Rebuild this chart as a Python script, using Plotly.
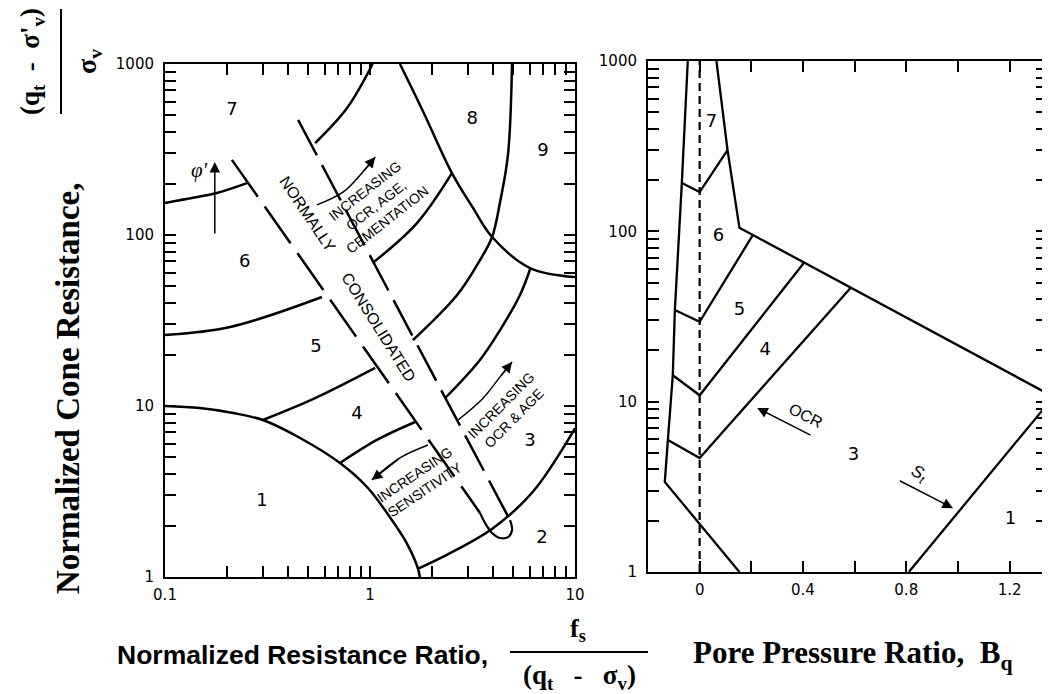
import math
import plotly.graph_objects as go

# ---------------- Left chart: normalized friction ratio vs normalized cone resistance
Z1_X = [0.1, 0.148, 0.215, 0.30, 0.456, 0.714, 0.967, 1.25, 1.51, 1.71, 1.75]
Z1_Y = [10.0, 9.73, 9.1, 8.28, 6.5, 4.64, 3.36, 2.24, 1.58, 1.13, 1.0]
Z23_X = [1.72, 2.46, 3.98, 6.23, 10.0]
Z23_Y = [1.12, 1.38, 1.93, 3.15, 7.4]
Z34L_X = [0.714, 1.08, 1.66]
Z34L_Y = [4.64, 6.33, 8.06]
Z34R_X = [2.32, 3.44, 4.31, 5.39, 6.05]
Z34R_Y = [11.1, 18.6, 27.8, 44.6, 63.5]
Z45L_X = [0.30, 0.53, 1.06]
Z45L_Y = [8.28, 11.0, 16.7]
Z45R_X = [1.62, 2.66, 3.44, 3.94, 4.31, 4.71, 4.93]
Z45R_Y = [24.3, 44.6, 71.4, 97.3, 156, 294, 1000]
Z56L_X = [0.1, 0.208, 0.583]
Z56L_Y = [26.0, 29.0, 43.4]
Z56R_X = [1.03, 1.69, 2.51]
Z56R_Y = [68.6, 117, 230]
Z67L_X = [0.1, 0.137, 0.179, 0.251]
Z67L_Y = [154, 165, 176, 201]
Z67R_X = [0.54, 0.773, 1.03]
Z67R_Y = [345, 553, 1000]
ZC_X = [1.40, 1.82, 2.51, 3.18, 3.94, 6.03, 10.0]
ZC_Y = [1000, 524, 230, 144, 97.3, 64.1, 56.8]

# normally consolidated band
NC_LEFT_X = [0.212, 3.44]
NC_LEFT_Y = [275, 2.37]
NC_U_X = [3.44, 3.64, 3.94, 4.31, 4.71, 4.93, 4.82]
NC_U_Y = [2.37, 2.07, 1.81, 1.69, 1.71, 1.88, 2.15]
NC_RIGHT_X = [0.446, 4.82]
NC_RIGHT_Y = [471, 2.15]

# arrows (left chart), last point is the arrow tip
PHI_X = [0.175, 0.175]
PHI_Y = [100, 267]
ARR_UP_X = [0.551, 0.738, 0.924, 1.06]
ARR_UP_Y = [150, 178, 234, 286]
ARR_OCR_X = [2.69, 3.56, 4.31, 4.93]
ARR_OCR_Y = [8.28, 11.1, 14.8, 18.1]
ARR_SEN_X = [1.92, 1.40, 1.02]
ARR_SEN_Y = [5.91, 4.97, 3.69]

LEFT_ZONES = ["1", "2", "3", "4", "5", "6", "7", "8", "9"]
LEFT_ZX = [0.297, 6.9, 6.03, 0.865, 0.545, 0.245, 0.212, 3.15, 6.98]
LEFT_ZY = [2.75, 1.69, 6.16, 8.86, 22.1, 68.6, 538, 471, 306]

LEFT_X_MAJOR = [0.1, 1, 10]
LEFT_X_LABELS = ["0.1", "1", "10"]
Y_MAJOR = [1, 10, 100, 1000]
Y_LABELS = ["1", "10", "100", "1000"]

# ---------------- Right chart: pore pressure ratio Bq vs normalized cone resistance
R_OUT_X = [-0.046, -0.069, -0.096, -0.104, -0.123, -0.135, 0.154]
R_OUT_Y = [1000, 192, 34.5, 14.3, 5.96, 3.38, 1.0]
R_TOP_X = [0.065, 0.108, 0.154, 1.345]
R_TOP_Y = [1000, 300, 105, 11.2]
R_76_X = [-0.069, 0.0, 0.108]
R_76_Y = [192, 170, 300]
R_65_X = [-0.096, 0.0, 0.204]
R_65_Y = [34.5, 29.4, 94]
R_54_X = [-0.104, 0.0, 0.404]
R_54_Y = [14.3, 10.9, 65.4]
R_43_X = [-0.123, 0.0, 0.585]
R_43_Y = [5.96, 4.67, 46.6]
R_31_X = [0.81, 1.345]
R_31_Y = [1.0, 9.6]
R_ZERO_X = [0.0, 0.0]
R_ZERO_Y = [1, 1000]

RIGHT_ZONES = ["7", "6", "5", "4", "3", "1"]
RIGHT_ZX = [0.046, 0.073, 0.154, 0.254, 0.596, 1.204]
RIGHT_ZY = [433, 92.7, 34.5, 20.1, 4.86, 2.02]

R_OCR_X = [0.435, 0.223]   # tail, tip
R_OCR_Y = [6.29, 9.18]
R_ST_X = [0.769, 0.981]
R_ST_Y = [3.47, 2.37]
RIGHT_X_MAJOR = [0.0, 0.4, 0.8, 1.2]
RIGHT_X_LABELS = ["0", "0.4", "0.8", "1.2"]
RIGHT_X_MINOR = [0.2, 0.6, 1.0]

SANS = "Liberation Sans, Arial, Helvetica, sans-serif"
TICKSANS = "DejaVu Sans, Liberation Sans, sans-serif"
SERIF = "Liberation Serif, Times New Roman, serif"

# page geometry: the html body adds an 8 px margin, so positions are laid out
# in window pixels and converted to figure coordinates with that offset
W, H = 1050, 694
OFF = 8

fig = go.Figure()


def line(xs, ys, xa="x", ya="y", dash="solid", width=2.5, shape="spline"):
    fig.add_trace(go.Scatter(
        x=xs, y=ys, xaxis=xa, yaxis=ya, mode="lines",
        line=dict(color="black", width=width, dash=dash, shape=shape),
        hoverinfo="skip", showlegend=False))


def lg(v):
    return math.log10(v)


def arrow_line(xs, ys, xa="x", ya="y", logx=True, width=1.5, shape="spline"):
    """Arrow body drawn as a line trace, head as an annotation on the last segment."""
    if len(xs) > 2:
        line(xs, ys, xa, ya, width=width, shape=shape)
    fx = lg if logx else (lambda v: v)
    fig.add_annotation(
        x=fx(xs[-1]), y=lg(ys[-1]), ax=fx(xs[-2]), ay=lg(ys[-2]),
        xref=xa, yref=ya, axref=xa, ayref=ya, text="", showarrow=True,
        arrowhead=2, arrowsize=1.4, arrowwidth=width, arrowcolor="black",
        standoff=0, startstandoff=0)


def text(t, x, y, xr, yr, size, angle=0, family=SANS):
    fig.add_annotation(
        x=x, y=y, xref=xr, yref=yr, text=t, showarrow=False, textangle=angle,
        xanchor="center", yanchor="middle",
        font=dict(family=family, size=size, color="black"))


# ---- left chart curves
for xs, ys in [(Z1_X, Z1_Y), (Z23_X, Z23_Y), (Z34L_X, Z34L_Y), (Z34R_X, Z34R_Y),
               (Z45L_X, Z45L_Y), (Z45R_X, Z45R_Y), (Z56L_X, Z56L_Y), (Z56R_X, Z56R_Y),
               (Z67L_X, Z67L_Y), (Z67R_X, Z67R_Y), (ZC_X, ZC_Y)]:
    line(xs, ys)

line(NC_LEFT_X, NC_LEFT_Y, dash="45px,12px", shape="linear")
line(NC_U_X, NC_U_Y, width=2.2)
line(NC_RIGHT_X, NC_RIGHT_Y, dash="40px,11px", shape="linear")

# arrows
arrow_line(PHI_X, PHI_Y)
for ax_, ay_ in [(ARR_UP_X, ARR_UP_Y), (ARR_OCR_X, ARR_OCR_Y), (ARR_SEN_X, ARR_SEN_Y)]:
    arrow_line(ax_, ay_)

fig.add_trace(go.Scatter(x=LEFT_ZX, y=LEFT_ZY, mode="text", text=LEFT_ZONES,
                         textfont=dict(family=TICKSANS, size=18, color="black"),
                         hoverinfo="skip", showlegend=False))

text("NORMALLY", lg(0.493), lg(133), "x", "y", 16, 56)
text("CONSOLIDATED", lg(1.094), lg(29.0), "x", "y", 16, 58)
text("INCREASING<br>OCR, AGE,<br>CEMENTATION", lg(1.07), lg(150), "x", "y", 14, -38)
text("INCREASING<br>OCR &amp; AGE", lg(4.66), lg(9.22), "x", "y", 14, -45)
text("INCREASING<br>SENSITIVITY", lg(1.75), lg(3.59), "x", "y", 14, -34)
text("<i>φ'</i>", lg(0.148), lg(240), "x", "y", 21, 0, SERIF)

# ---- right chart
line(R_ZERO_X, R_ZERO_Y, "x2", "y2", dash="8px,5px", width=2.2, shape="linear")
for xs, ys in [(R_OUT_X, R_OUT_Y), (R_TOP_X, R_TOP_Y), (R_76_X, R_76_Y), (R_65_X, R_65_Y),
               (R_54_X, R_54_Y), (R_43_X, R_43_Y), (R_31_X, R_31_Y)]:
    line(xs, ys, "x2", "y2", width=2.3, shape="linear")

fig.add_trace(go.Scatter(x=RIGHT_ZX, y=RIGHT_ZY, xaxis="x2", yaxis="y2", mode="text",
                         text=RIGHT_ZONES,
                         textfont=dict(family=TICKSANS, size=18, color="black"),
                         hoverinfo="skip", showlegend=False))

arrow_line(R_OCR_X, R_OCR_Y, "x2", "y2", logx=False)
arrow_line(R_ST_X, R_ST_Y, "x2", "y2", logx=False)
text("OCR", 0.41, lg(8.3), "x2", "y2", 16, 27)
text("<i>S<sub>t</sub></i>", 0.846, lg(3.75), "x2", "y2", 17, 27)


# ---- axis titles (paper coords)
def px(x, y):
    return (x - OFF) / W, 1 - (y - OFF) / H


def ptext(t, x, y, size, family, angle=0):
    X, Y = px(x, y)
    fig.add_annotation(x=X, y=Y, xref="paper", yref="paper", text=t, showarrow=False,
                       textangle=angle, xanchor="center", yanchor="middle",
                       font=dict(family=family, size=size, color="black"))


def pline(x0, y0, x1, y1):
    a, b = px(x0, y0)
    c, d = px(x1, y1)
    fig.add_shape(type="line", xref="paper", yref="paper", x0=a, y0=b, x1=c, y1=d,
                  line=dict(color="black", width=2))


NB = "\u00a0"
ptext("<b>Normalized Cone Resistance,</b>", 68, 388, 33, SERIF, -90)
ptext("<b>(q<sub>t</sub>" + NB * 2 + "-" + NB * 2 + "σ'<sub>v</sub>)</b>", 32, 62, 27, SERIF, -90)
ptext("<b>σ<sub>v</sub></b>", 88, 62, 28, SERIF, -90)
pline(61, 9, 61, 114)

ptext("<b>Normalized Resistance Ratio,</b>", 302, 655, 26.5, SANS)
ptext("<b>f<sub>s</sub></b>", 578, 630, 26, SERIF)
ptext("<b>(q<sub>t</sub>" + NB * 3 + "-" + NB * 3 + "σ<sub>v</sub>)</b>", 579, 677, 27, SERIF)
pline(510, 652, 648, 652)
ptext("<b>Pore Pressure Ratio," + NB * 2 + "B<sub>q</sub></b>", 852, 655, 31, SERIF)

# ---- axes
LOG_MULT = [2, 3, 4, 5, 6, 7, 8, 9]
x_minor = [m * d for d in LEFT_X_MAJOR[:-1] for m in LOG_MULT]
y_minor = [m * d for d in Y_MAJOR[:-1] for m in LOG_MULT]

tick_style = dict(ticks="inside", ticklen=11, tickwidth=1.5, tickcolor="black")
common = dict(showline=True, linewidth=2, linecolor="black", mirror="ticks",
              showgrid=False, zeroline=False, automargin=False,
              tickfont=dict(family=TICKSANS, size=15, color="black"), **tick_style)


def xdom(a, b):
    return [(a - OFF) / W, (b - OFF) / W]


def ydom(top, bottom):
    return [1 - (bottom - OFF) / H, 1 - (top - OFF) / H]


fig.update_layout(
    width=W, height=H, margin=dict(l=0, r=0, t=0, b=0, autoexpand=False),
    paper_bgcolor="white", plot_bgcolor="white", showlegend=False,
    xaxis=dict(type="log", range=[-1, 1], domain=xdom(165, 575),
               tickvals=LEFT_X_MAJOR, ticktext=LEFT_X_LABELS, anchor="y",
               minor=dict(tickvals=x_minor, **tick_style),
               ticklabelstandoff=3, **common),
    yaxis=dict(type="log", range=[0, 3], domain=ydom(64, 577),
               tickvals=Y_MAJOR, ticktext=Y_LABELS, anchor="x",
               minor=dict(tickvals=y_minor, **tick_style),
               ticklabelstandoff=6, **common),
    xaxis2=dict(range=[-0.2, 1.345], domain=xdom(648, 1047),
                tickvals=RIGHT_X_MAJOR, ticktext=RIGHT_X_LABELS, anchor="y2",
                minor=dict(tickvals=RIGHT_X_MINOR, **tick_style),
                ticklabelstandoff=3, **common),
    yaxis2=dict(type="log", range=[0, 3], domain=ydom(61, 572),
                tickvals=Y_MAJOR, ticktext=Y_LABELS, anchor="x2",
                minor=dict(tickvals=y_minor, **tick_style),
                ticklabelstandoff=6, **common),
)

fig.write_html("out.html")
